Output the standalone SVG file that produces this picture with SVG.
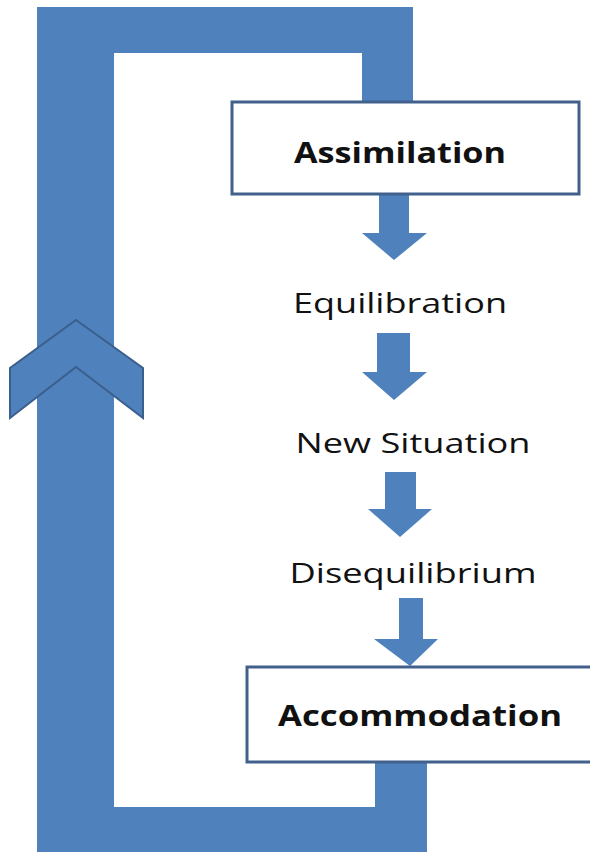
<svg xmlns="http://www.w3.org/2000/svg" width="590" height="854" viewBox="0 0 590 854">
  <style>
    .frame { fill: #4f81bd; }
    .box { fill: #ffffff; stroke: #41618c; stroke-width: 3; }
    .arrow { fill: #4f81bd; }
    .chev { fill: #4f81bd; stroke: #3b5f8c; stroke-width: 2; stroke-linejoin: miter; }
    .bold { font-family: "Open Sans", "Liberation Sans", sans-serif; font-weight: bold; font-size: 28px; fill: #111; text-anchor: middle; }
    .label { font-family: "Open Sans", "Liberation Sans", sans-serif; font-size: 27px; fill: #111; text-anchor: middle; }
  </style>
  <rect width="590" height="854" fill="#ffffff"/>
  <g id="connectors">
    <path id="loop" class="frame" d="M37,7 H413 V104 H362 V53 H114 V807 H375 V760 H427 V852 H37 Z"/>
    <polygon id="chevron" class="chev" points="76,320 143,368 143,418 76,367 10,418 10,368"/>
    <polygon id="arrow1" class="arrow" points="379,195 409,195 409,233 427,233 394,260 362,233 379,233"/>
    <polygon id="arrow2" class="arrow" points="377,333 410,333 410,372 427,372 394,400 362,372 377,372"/>
    <polygon id="arrow3" class="arrow" points="385,472 416,472 416,509 432,509 400,537 368,509 385,509"/>
    <polygon id="arrow4" class="arrow" points="399,598 423,598 423,639 438,639 410,666 374,639 399,639"/>
  </g>
  <g id="assimilation">
    <rect class="box" x="232" y="102" width="347" height="92"/>
    <text class="bold" x="400" y="163" textLength="212" lengthAdjust="spacingAndGlyphs">Assimilation</text>
  </g>
  <g id="equilibration">
    <text class="label" x="400" y="313" textLength="214" lengthAdjust="spacingAndGlyphs">Equilibration</text>
  </g>
  <g id="new-situation">
    <text class="label" x="413" y="453" textLength="235" lengthAdjust="spacingAndGlyphs">New Situation</text>
  </g>
  <g id="disequilibrium">
    <text class="label" x="413" y="583" textLength="247" lengthAdjust="spacingAndGlyphs">Disequilibrium</text>
  </g>
  <g id="accommodation">
    <rect class="box" x="247" y="667" width="345" height="95"/>
    <text class="bold" x="420" y="726" textLength="284" lengthAdjust="spacingAndGlyphs">Accommodation</text>
  </g>
</svg>
